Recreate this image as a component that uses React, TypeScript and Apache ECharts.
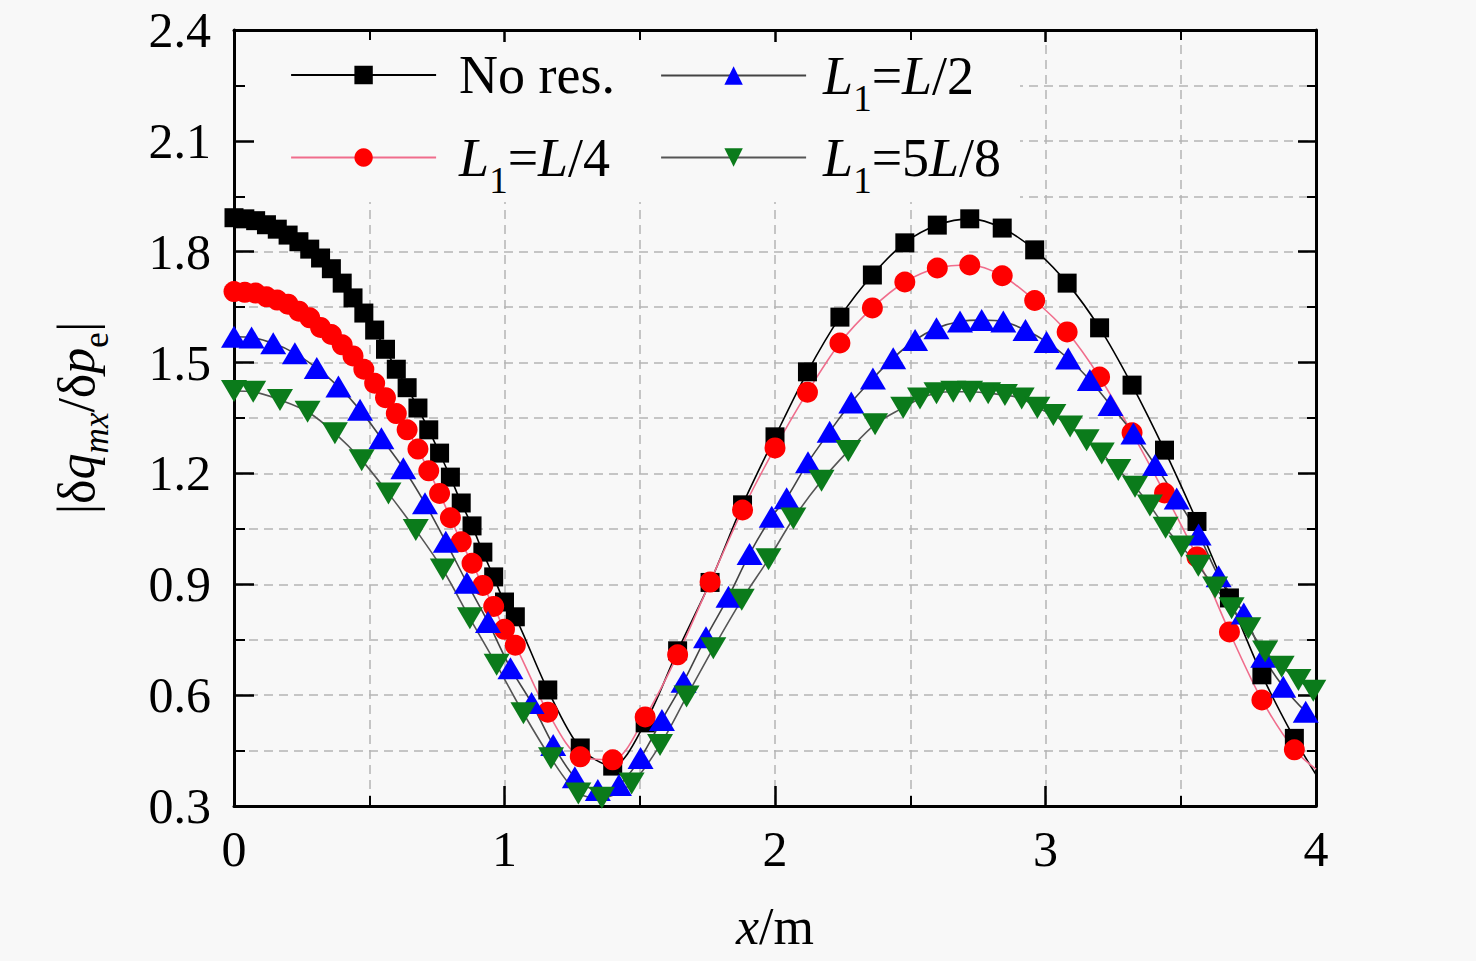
import React, { useEffect, useRef } from "react";
import * as echarts from "echarts";

// ---- Data ----
const noResX = [
  0, 0.04, 0.08, 0.12, 0.16, 0.2, 0.24, 0.28, 0.32, 0.36, 0.4, 0.44, 0.48, 0.52,
  0.56, 0.6, 0.64, 0.68, 0.72, 0.76, 0.8, 0.84, 0.88, 0.92, 0.96, 1.0, 1.04,
  1.16, 1.28, 1.4, 1.52, 1.64, 1.76, 1.88, 2.0, 2.12, 2.24, 2.36, 2.48, 2.6,
  2.72, 2.84, 2.96, 3.08, 3.2, 3.32, 3.44, 3.56, 3.68, 3.8, 3.92,
];
const noResY = [
  1.892, 1.889, 1.884, 1.873, 1.861, 1.845, 1.827, 1.807, 1.783, 1.754, 1.715,
  1.675, 1.634, 1.588, 1.536, 1.482, 1.432, 1.377, 1.318, 1.255, 1.19, 1.12,
  1.058, 0.987, 0.92, 0.852, 0.812,
  0.614, 0.457, 0.408, 0.525, 0.72, 0.905, 1.115, 1.299, 1.475, 1.623, 1.737,
  1.824, 1.872, 1.889, 1.864, 1.805, 1.715, 1.594, 1.439, 1.263, 1.07, 0.863,
  0.655, 0.483,
];
const noResEnd = [4.0, 0.385];

const quarterX = noResX;
const quarterY = [
  1.692, 1.69, 1.688, 1.678, 1.669, 1.658, 1.639, 1.621, 1.595, 1.576, 1.548,
  1.518, 1.482, 1.444, 1.405, 1.362, 1.318, 1.266, 1.207, 1.146, 1.08, 1.015,
  0.957, 0.897, 0.84, 0.778, 0.735,
  0.554, 0.433, 0.425, 0.541, 0.709, 0.906, 1.101, 1.269, 1.42, 1.553, 1.648,
  1.718, 1.756, 1.764, 1.735, 1.668, 1.583, 1.461, 1.31, 1.147, 0.974, 0.771,
  0.587, 0.452,
];
const quarterEnd = [4.0, 0.4];

const halfX = [
  0, 0.065, 0.145, 0.225, 0.306, 0.386, 0.466, 0.545, 0.626, 0.706, 0.783,
  0.861, 0.939, 1.022, 1.1, 1.18, 1.26, 1.345, 1.423, 1.503, 1.582, 1.662,
  1.745, 1.828, 1.906, 1.988, 2.043, 2.122, 2.202, 2.282, 2.362, 2.437, 2.518,
  2.597, 2.684, 2.764, 2.844, 2.926, 3.004, 3.084, 3.164, 3.24, 3.325, 3.405,
  3.485, 3.566, 3.64, 3.733, 3.805, 3.879, 3.962,
];
const halfY = [
  1.57, 1.568, 1.552, 1.525, 1.485, 1.435, 1.372, 1.295, 1.214, 1.119, 1.015,
  0.904, 0.798, 0.673, 0.579, 0.465, 0.378, 0.343, 0.357, 0.43, 0.533, 0.636,
  0.757, 0.866, 0.982, 1.083, 1.133, 1.23, 1.313, 1.392, 1.457, 1.512, 1.561,
  1.593, 1.611, 1.615, 1.611, 1.588, 1.556, 1.511, 1.453, 1.385, 1.308, 1.223,
  1.132, 1.035, 0.922, 0.821, 0.704, 0.623, 0.555,
];
const halfEnd = [4.0, 0.535];

const fiveEighthX = [
  0, 0.071, 0.17, 0.272, 0.373, 0.472, 0.571, 0.672, 0.772, 0.872, 0.971, 1.07,
  1.172, 1.273, 1.36, 1.47, 1.575, 1.673, 1.772, 1.877, 1.976, 2.068, 2.172,
  2.271, 2.37, 2.474, 2.536, 2.597, 2.659, 2.721, 2.788, 2.85, 2.912, 2.97,
  3.029, 3.091, 3.152, 3.208, 3.269, 3.331, 3.386, 3.444, 3.503, 3.565, 3.627,
  3.688, 3.75, 3.812, 3.873, 3.935, 3.99,
];
const fiveEighthY = [
  1.423, 1.421, 1.399, 1.367, 1.309, 1.236, 1.146, 1.047, 0.94, 0.808, 0.682,
  0.551, 0.429, 0.334, 0.322, 0.361, 0.465, 0.596, 0.727, 0.858, 0.968, 1.078,
  1.18, 1.261, 1.333, 1.378, 1.403, 1.417, 1.421, 1.421, 1.417, 1.412, 1.403,
  1.378, 1.358, 1.327, 1.29, 1.254, 1.209, 1.164, 1.113, 1.053, 1.002, 0.95,
  0.891, 0.835, 0.781, 0.718, 0.677, 0.641, 0.612,
];

const seriesNames = ["No res.", "L1=L/4", "L1=L/2", "L1=5L/8"];
const legendLabels: Record<string, string> = {
  "No res.": "{n|No res.}",
  "L1=L/4": "{i|L}{s|1}{n|=}{i|L}{n|/4}",
  "L1=L/2": "{i|L}{s|1}{n|=}{i|L}{n|/2}",
  "L1=5L/8": "{i|L}{s|1}{n|=5}{i|L}{n|/8}",
};

const xTicks = { min: 0, max: 4, major: 1, grid: 0.5 };
const yTicks = { min: 0.3, max: 2.4, major: 0.3, grid: 0.15 };

const SERIF = "'Liberation Serif', 'Times New Roman', serif";
const BG = "#f8f8f8";

function toPairs(xs: number[], ys: number[], end?: number[]) {
  const d: any[] = xs.map((x, i) => [x, ys[i]]);
  if (end) d.push({ value: end, symbol: "none" });
  return d;
}

export default function App() {
  const ref = useRef<HTMLDivElement>(null);

  useEffect(() => {
    document.body.style.margin = "0";
    document.body.style.background = BG;
    if (!ref.current) return;
    const chart = echarts.init(ref.current, undefined, { renderer: "svg" });

    const LH = 60;
    const legendRich = {
      n: { fontFamily: SERIF, fontSize: 54, lineHeight: LH, color: "#000" },
      i: { fontFamily: SERIF, fontSize: 54, fontStyle: "italic", lineHeight: LH, color: "#000" },
      s: { fontFamily: SERIF, fontSize: 37, lineHeight: LH, padding: [46, 0, 0, 0], color: "#000" },
    };

    const mkLegend = (name: string, left: number, top: number, textGap: number) => ({
      data: [name],
      orient: "vertical",
      left,
      top,
      padding: 0,
      itemWidth: 145,
      itemHeight: 23,
      formatter: (n: string) => legendLabels[n],
      lineStyle: { width: 2.2 },
      textStyle: {
        fontFamily: SERIF,
        fontSize: 54,
        lineHeight: LH,
        color: "#000",
        padding: [0, 0, 0, textGap],
        rich: legendRich,
      },
    });

    const mainAxisLine = {
      show: true,
      onZero: false,
      lineStyle: { color: "#000", width: 3 },
    };
    const gridLine = {
      show: true,
      lineStyle: { color: "#b4b4b4", width: 1.5, type: [9, 6] },
    };
    const hidden = {
      axisLine: { show: false },
      axisTick: { show: false },
      axisLabel: { show: false },
    };

    // icon centre rows: 75 and 157; items with a subscript extend higher above the icon
    const plainTop = (c: number) => c - 30;
    const subTop = (c: number) => c - 41;

    const option: any = {
      animation: false,
      backgroundColor: BG,
      grid: { left: 234, top: 30, width: 1082, height: 776, containLabel: false },
      graphic: [
        {
          type: "rect",
          z: 1,
          silent: true,
          shape: { x: 236, y: 32, width: 784, height: 170 },
          style: { fill: BG },
        },
      ],
      legend: [
        mkLegend(seriesNames[0], 290, plainTop(75), 18),
        mkLegend(seriesNames[1], 290, subTop(157), 18),
        mkLegend(seriesNames[2], 660, subTop(75), 12),
        mkLegend(seriesNames[3], 660, subTop(157), 12),
      ],
      xAxis: [
        {
          type: "value",
          position: "bottom",
          min: xTicks.min,
          max: xTicks.max,
          interval: xTicks.major,
          z: 3,
          axisLine: mainAxisLine,
          axisTick: { show: true, inside: true, length: 20, lineStyle: { color: "#000", width: 2.5 } },
          minorTick: { show: true, splitNumber: 2, length: 10, lineStyle: { color: "#000", width: 2 } },
          axisLabel: {
            show: true,
            margin: 18,
            color: "#000",
            fontFamily: SERIF,
            fontSize: 50,
            formatter: (v: number) => String(Math.round(v)),
          },
          splitLine: { show: false },
          name: "{i|x}{n|/m}",
          nameLocation: "middle",
          nameGap: 90,
          nameTextStyle: {
            rich: {
              i: { fontFamily: SERIF, fontSize: 52, fontStyle: "italic", lineHeight: 60, color: "#000" },
              n: { fontFamily: SERIF, fontSize: 52, lineHeight: 60, color: "#000" },
            },
          },
        },
        {
          type: "value",
          position: "top",
          min: xTicks.min,
          max: xTicks.max,
          interval: xTicks.major,
          z: 3,
          axisLine: mainAxisLine,
          axisTick: { show: true, inside: true, length: 12, lineStyle: { color: "#000", width: 2.5 } },
          minorTick: { show: true, splitNumber: 2, length: 10, lineStyle: { color: "#000", width: 2 } },
          axisLabel: { show: false },
          splitLine: { show: false },
        },
        {
          type: "value",
          position: "bottom",
          min: xTicks.min,
          max: xTicks.max,
          interval: xTicks.grid,
          z: 0,
          ...hidden,
          splitLine: gridLine,
        },
      ],
      yAxis: [
        {
          type: "value",
          position: "left",
          min: yTicks.min,
          max: yTicks.max,
          interval: yTicks.major,
          z: 3,
          axisLine: mainAxisLine,
          axisTick: { show: true, inside: true, length: 20, lineStyle: { color: "#000", width: 2.5 } },
          minorTick: { show: true, splitNumber: 2, length: 11, lineStyle: { color: "#000", width: 2 } },
          axisLabel: {
            show: true,
            margin: 23,
            color: "#000",
            fontFamily: SERIF,
            fontSize: 50,
            formatter: (v: number) => v.toFixed(1),
          },
          splitLine: { show: false },
          name: "{n||δ}{i|q}{si|mx}{n|/δ}{i|p}{s|e}{n||}",
          nameLocation: "middle",
          nameRotate: 90,
          nameGap: 128,
          nameTextStyle: {
            lineHeight: 60,
            rich: {
              n: { fontFamily: SERIF, fontSize: 52, lineHeight: 60, color: "#000" },
              i: { fontFamily: SERIF, fontSize: 52, fontStyle: "italic", lineHeight: 60, color: "#000" },
              si: {
                fontFamily: SERIF,
                fontSize: 35,
                fontStyle: "italic",
                lineHeight: 60,
                padding: [40, 0, 0, 0],
                color: "#000",
              },
              s: { fontFamily: SERIF, fontSize: 35, lineHeight: 60, padding: [40, 0, 0, 0], color: "#000" },
            },
          },
        },
        {
          type: "value",
          position: "right",
          min: yTicks.min,
          max: yTicks.max,
          interval: yTicks.major,
          z: 3,
          axisLine: mainAxisLine,
          axisTick: { show: true, inside: true, length: 18, lineStyle: { color: "#000", width: 2.5 } },
          minorTick: { show: true, splitNumber: 2, length: 9, lineStyle: { color: "#000", width: 2 } },
          axisLabel: { show: false },
          splitLine: { show: false },
        },
        {
          type: "value",
          position: "left",
          min: yTicks.min,
          max: yTicks.max,
          interval: yTicks.grid,
          z: 0,
          ...hidden,
          splitLine: gridLine,
        },
      ],
      series: [
        {
          name: seriesNames[0],
          type: "line",
          xAxisIndex: 0,
          yAxisIndex: 0,
          data: toPairs(noResX, noResY, noResEnd),
          symbol: "rect",
          symbolSize: 19,
          smooth: 0.3,
          itemStyle: { color: "#000000" },
          lineStyle: { color: "#000000", width: 1.6 },
        },
        {
          name: seriesNames[1],
          type: "line",
          xAxisIndex: 0,
          yAxisIndex: 0,
          data: toPairs(quarterX, quarterY, quarterEnd),
          symbol: "circle",
          symbolSize: 21,
          smooth: 0.3,
          itemStyle: { color: "#ff0000" },
          lineStyle: { color: "#f06d8c", width: 1.6 },
        },
        {
          name: seriesNames[2],
          type: "line",
          xAxisIndex: 0,
          yAxisIndex: 0,
          data: toPairs(halfX, halfY, halfEnd),
          symbol: "triangle",
          symbolSize: [26, 22],
          smooth: 0.3,
          itemStyle: { color: "#0000ff" },
          lineStyle: { color: "#444444", width: 1.6 },
        },
        {
          name: seriesNames[3],
          type: "line",
          xAxisIndex: 0,
          yAxisIndex: 0,
          data: toPairs(fiveEighthX, fiveEighthY),
          symbol: "path://M0,0L20,0L10,17Z",
          symbolSize: [26, 22],
          smooth: 0.3,
          itemStyle: { color: "#0b7b1b" },
          lineStyle: { color: "#555555", width: 1.6 },
        },
      ],
    };

    chart.setOption(option);
    return () => {
      chart.dispose();
    };
  }, []);

  return (
    <div
      ref={ref}
      style={{
        position: "absolute",
        left: 0,
        top: 0,
        width: 1476,
        height: 961,
        background: BG,
      }}
    />
  );
}
